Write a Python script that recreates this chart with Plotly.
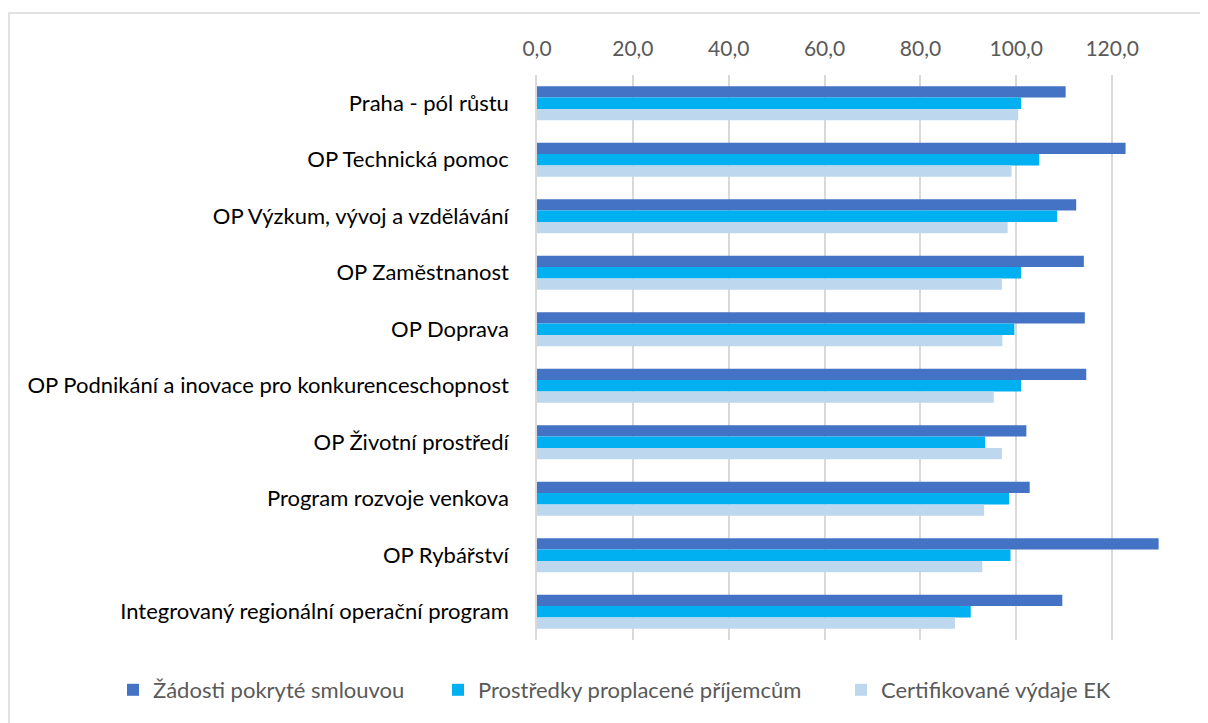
import plotly.graph_objects as go

categories = [
    "Praha - pól růstu",
    "OP Technická pomoc",
    "OP Výzkum, vývoj a vzdělávání",
    "OP Zaměstnanost",
    "OP Doprava",
    "OP Podnikání a inovace pro konkurenceschopnost",
    "OP Životní prostředí",
    "Program rozvoje venkova",
    "OP Rybářství",
    "Integrovaný regionální operační program",
]
zadosti = [110.3, 122.8, 112.5, 114.1, 114.3, 114.6, 102.1, 102.8, 129.7, 109.6]
prostredky = [101.0, 104.8, 108.5, 101.0, 99.6, 101.0, 93.5, 98.5, 98.8, 90.5]
certifikovane = [100.4, 99.0, 98.2, 97.0, 97.1, 95.3, 97.0, 93.3, 92.9, 87.2]
series_names = ["Žádosti pokryté smlouvou", "Prostředky proplacené příjemcům", "Certifikované výdaje EK"]
series_colors = ["#4472C4", "#00B0F0", "#BDD7EE"]
tick_values = [0, 20, 40, 60, 80, 100, 120]

FONT = "Lato"
OFF = 8  # page body margin

W, H = 1200, 715
L, R, T, B = 537 - OFF, 0, 75 - OFF, 723 - 640
pw, ph = W - L - R, H - T - B

def px(x):
    return (x - OFF - L) / pw

def py(y):
    return (H - B - (y - OFF)) / ph

legend_ids = ["legend", "legend2", "legend3"]
legend_text_x = [151, 476, 879]

fig = go.Figure()
for name, vals, col, lid in zip(series_names, [zadosti, prostredky, certifikovane], series_colors, legend_ids):
    fig.add_trace(go.Bar(
        y=categories, x=vals, name=name, orientation="h",
        marker=dict(color=col, line=dict(width=0)),
        legend=lid, showlegend=True,
    ))

legend_common = dict(
    orientation="h", xref="container", yref="container",
    y=1 - (690 - OFF) / H, yanchor="middle", xanchor="left",
    font=dict(family=FONT, size=22, color="#595959"),
    itemwidth=30, bgcolor="rgba(0,0,0,0)",
)
legends = {}
for lid, tx in zip(legend_ids, legend_text_x):
    legends[lid] = dict(legend_common, x=(tx - OFF - 38) / W)

fig.update_layout(
    width=W, height=H,
    margin=dict(l=L, r=R, t=T, b=B),
    paper_bgcolor="white", plot_bgcolor="white",
    showlegend=True,
    barmode="group", bargap=0.4, bargroupgap=0,
    separators=",.",
    font=dict(family=FONT, size=21, color="#595959"),
    xaxis=dict(
        side="top", range=[0, 140], tickvals=tick_values, tickformat=".1f",
        showgrid=True, gridcolor="#d9d9d9", gridwidth=1.5,
        zeroline=False, showline=False, ticks="",
        tickfont=dict(family=FONT, size=21, color="#595959"),
        ticklabelstandoff=14,
    ),
    yaxis=dict(
        autorange="reversed", showgrid=False, zeroline=False,
        showline=True, linecolor="#d9d9d9", linewidth=1.5, ticks="",
        tickfont=dict(family=FONT, size=22, color="#000000"),
        ticklabelstandoff=22,
    ),
    shapes=[dict(
        type="path", xref="paper", yref="paper",
        path=f"M {px(9)} {py(740)} L {px(9)} {py(13)} L {px(1230)} {py(13)}",
        line=dict(color="#d9d9d9", width=1.5),
    )],
    **legends,
)

fig.write_html("out.html")
